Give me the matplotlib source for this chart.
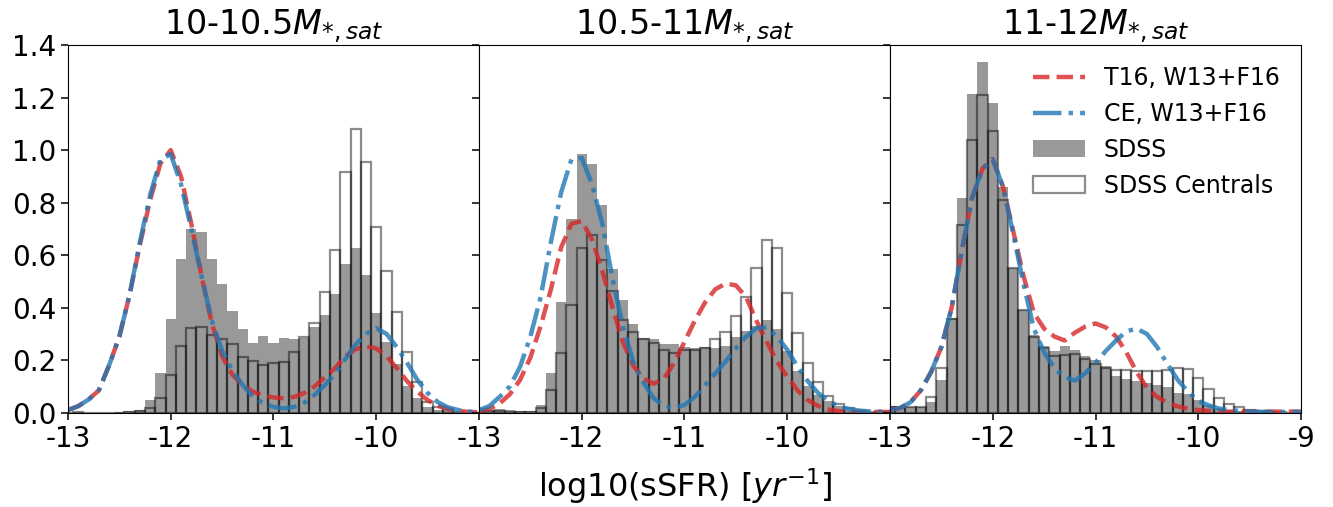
import numpy as np
import matplotlib
matplotlib.use("Agg")
import matplotlib.pyplot as plt

plt.rcParams["axes.unicode_minus"] = False

# bin centres (width 0.1) and grid the model curves were read on
bin_centers = np.round(np.arange(-13.0, -8.95, 0.1), 2)
curve_x = bin_centers

titles = ["10-10.5$M_{*,sat}$", "10.5-11$M_{*,sat}$", "11-12$M_{*,sat}$"]

# ── SDSS (all) histograms ──
sdss_p1 = [0, 0.003, 0, 0, 0, 0.002, 0.005, 0.012, 0.048, 0.15, 0.357, 0.585, 0.70, 0.69,
           0.585, 0.49, 0.389, 0.318, 0.267, 0.292, 0.267, 0.283, 0.280, 0.285, 0.328, 0.372,
           0.452, 0.566, 0.626, 0.525, 0.379, 0.268, 0.184, 0.103, 0.057, 0.023, 0.010, 0.005,
           0.002, 0, 0]
sdss_p2 = [0.005, 0.012, 0.015, 0.01, 0.008, 0.008, 0.03, 0.152, 0.42, 0.737, 0.985, 0.948,
           0.79, 0.546, 0.43, 0.337, 0.285, 0.28, 0.26, 0.263, 0.25, 0.248, 0.25, 0.245, 0.254,
           0.29, 0.31, 0.33, 0.353, 0.318, 0.236, 0.16, 0.10, 0.066, 0.045, 0.025, 0.012, 0.006,
           0.003, 0.002, 0.001]
sdss_p3 = [0.025, 0.017, 0.02, 0.02, 0.042, 0.124, 0.362, 0.819, 1.214, 1.334, 1.179, 0.859,
           0.55, 0.39, 0.296, 0.254, 0.235, 0.255, 0.24, 0.215, 0.2, 0.178, 0.138, 0.13, 0.122,
           0.115, 0.105, 0.097, 0.074, 0.07, 0.048, 0.029, 0.018, 0.011, 0.007, 0.004, 0.002,
           0.001, 0, 0, 0]

# ── SDSS centrals ──
cen_p1 = [0, 0.002, 0, 0, 0, 0, 0.002, 0.005, 0.017, 0.055, 0.144, 0.255, 0.322, 0.328,
          0.296, 0.28, 0.26, 0.211, 0.197, 0.182, 0.19, 0.193, 0.233, 0.29, 0.34, 0.461, 0.62,
          0.918, 1.082, 0.954, 0.708, 0.54, 0.384, 0.233, 0.118, 0.042, 0.02, 0.01, 0.003, 0, 0]
cen_p2 = [0.003, 0.008, 0.005, 0.004, 0.003, 0.004, 0.017, 0.087, 0.226, 0.41, 0.626, 0.675,
          0.58, 0.465, 0.353, 0.308, 0.28, 0.266, 0.24, 0.226, 0.24, 0.24, 0.245, 0.281, 0.309,
          0.37, 0.442, 0.55, 0.656, 0.626, 0.457, 0.305, 0.19, 0.118, 0.064, 0.033, 0.017,
          0.008, 0.004, 0.002, 0.001]
cen_p3 = [0.02, 0.023, 0.023, 0.02, 0.061, 0.169, 0.356, 0.713, 1.039, 1.211, 1.073, 0.81,
          0.55, 0.39, 0.29, 0.245, 0.216, 0.22, 0.222, 0.203, 0.186, 0.17, 0.163, 0.163, 0.16,
          0.16, 0.158, 0.163, 0.172, 0.165, 0.133, 0.089, 0.055, 0.033, 0.02, 0.01, 0.005,
          0.002, 0.001, 0, 0]

# ── T16, W13+F16 model ──
t16_p1 = [0.01, 0.025, 0.05, 0.085, 0.18, 0.29, 0.45, 0.64, 0.81, 0.95, 1.0, 0.90, 0.72,
          0.52, 0.34, 0.215, 0.145, 0.105, 0.08, 0.066, 0.058, 0.055, 0.06, 0.075, 0.10, 0.135,
          0.17, 0.215, 0.242, 0.252, 0.245, 0.215, 0.17, 0.12, 0.08, 0.048, 0.026, 0.014,
          0.007, 0.003, 0.001]
t16_p2 = [0.006, 0.014, 0.035, 0.07, 0.125, 0.21, 0.33, 0.47, 0.63, 0.72, 0.73, 0.66, 0.54,
          0.40, 0.27, 0.18, 0.13, 0.11, 0.13, 0.19, 0.27, 0.35, 0.42, 0.47, 0.492, 0.485, 0.44,
          0.35, 0.27, 0.195, 0.137, 0.085, 0.048, 0.026, 0.012, 0.006, 0.004, 0.003, 0.003,
          0.003, 0.003]
t16_p3 = [0.01, 0.018, 0.04, 0.085, 0.155, 0.25, 0.40, 0.62, 0.82, 0.93, 0.966, 0.86, 0.69,
          0.52, 0.38, 0.32, 0.29, 0.275, 0.305, 0.328, 0.34, 0.325, 0.29, 0.23, 0.155, 0.095,
          0.06, 0.038, 0.024, 0.015, 0.01, 0.007, 0.005, 0.004, 0.004, 0.004, 0.004, 0.004,
          0.004, 0.004, 0.004]

# ── CE, W13+F16 model ──
ce_p1 = [0.01, 0.025, 0.05, 0.085, 0.18, 0.29, 0.45, 0.65, 0.83, 0.965, 0.985, 0.87, 0.70,
         0.52, 0.35, 0.235, 0.16, 0.105, 0.062, 0.036, 0.022, 0.016, 0.022, 0.038, 0.068,
         0.105, 0.15, 0.205, 0.26, 0.30, 0.322, 0.30, 0.25, 0.19, 0.125, 0.075, 0.04, 0.02,
         0.01, 0.004, 0.002]
ce_p2 = [0.01, 0.025, 0.06, 0.10, 0.175, 0.29, 0.44, 0.65, 0.84, 0.965, 0.97, 0.87, 0.72,
         0.51, 0.33, 0.195, 0.115, 0.055, 0.027, 0.017, 0.03, 0.06, 0.105, 0.15, 0.195, 0.245,
         0.29, 0.322, 0.325, 0.29, 0.24, 0.175, 0.12, 0.075, 0.045, 0.025, 0.014, 0.008, 0.005,
         0.004, 0.004]
ce_p3 = [0.01, 0.018, 0.04, 0.085, 0.155, 0.25, 0.40, 0.62, 0.82, 0.93, 0.965, 0.86, 0.68,
         0.49, 0.32, 0.23, 0.17, 0.135, 0.122, 0.15, 0.19, 0.235, 0.275, 0.31, 0.32, 0.30,
         0.25, 0.185, 0.125, 0.08, 0.045, 0.028, 0.016, 0.01, 0.007, 0.005, 0.003, 0.003,
         0.003, 0.003, 0.003]

sdss = [sdss_p1, sdss_p2, sdss_p3]
cens = [cen_p1, cen_p2, cen_p3]
t16 = [t16_p1, t16_p2, t16_p3]
ce = [ce_p1, ce_p2, ce_p3]

red = "#d62728"
blue = "#1f77b4"

fig, axes = plt.subplots(1, 3, figsize=(13.33, 5.07), dpi=100, sharey=True)
fig.subplots_adjust(left=0.051, right=0.976, top=0.911, bottom=0.186, wspace=0)

for i, ax in enumerate(axes):
    h_all = ax.bar(bin_centers, sdss[i], width=0.1, color="k", alpha=0.4,
                   linewidth=0, label="SDSS")
    h_cen = ax.bar(bin_centers, cens[i], width=0.1, fill=False, edgecolor="k",
                   alpha=0.45, linewidth=1.6, label="SDSS Centrals")
    l1, = ax.plot(curve_x, t16[i], "--", color=red, alpha=0.8, lw=3.2,
                  label="T16, W13+F16")
    l2, = ax.plot(curve_x, ce[i], "-.", color=blue, alpha=0.8, lw=3.2,
                  label="CE, W13+F16")

    ax.set_xlim(-13, -9)
    ax.set_ylim(0, 1.4)
    ax.set_title(titles[i], fontsize=24)
    if i < 2:
        ticks = [-13, -12, -11, -10]
    else:
        ticks = [-13, -12, -11, -10, -9]
    ax.set_xticks(ticks)
    ax.set_xticklabels([str(t) for t in ticks])
    ax.tick_params(labelsize=20, length=5, width=1.1)

axes[0].set_yticks(np.arange(0, 1.41, 0.2))
axes[0].set_yticklabels([f"{v:.1f}" for v in np.arange(0, 1.41, 0.2)])
axes[1].set_xlabel("log10(sSFR) [$yr^{-1}$]", fontsize=23, labelpad=10)

axes[2].legend([l1, l2, h_all, h_cen],
               ["T16, W13+F16", "CE, W13+F16", "SDSS", "SDSS Centrals"],
               loc="upper right", frameon=False, fontsize=17, handlelength=2.2)

fig.savefig("out.png", dpi=100)
